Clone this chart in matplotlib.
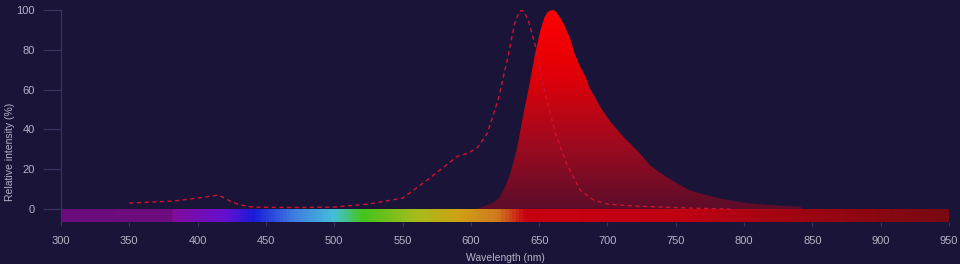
import numpy as np
import matplotlib.pyplot as plt
from matplotlib.colors import LinearSegmentedColormap
from matplotlib.patches import Polygon

# emission spectrum (filled, gradient)
em_wl = [604, 608, 612, 617, 621, 625, 629, 634, 638, 643, 647, 651, 654, 656, 658, 660,
         662, 665, 669, 673, 676, 680, 684, 687, 691, 695, 702, 707, 712, 719, 725, 731, 737,
         743, 752, 760, 771, 782, 793, 804, 816, 828, 841, 843]
em_val = [0, 1, 2, 3.5, 6, 11, 18, 31, 46, 63, 78, 90, 96.5, 98.8, 99.7, 100,
          99.5, 96.6, 91.6, 85, 78, 71.5, 66.5, 60.8, 56, 51, 44, 40, 36, 31.3, 27, 22, 19,
          16.2, 12.5, 9.5, 7.2, 5.4, 4, 2.9, 2.2, 1.6, 1.2, 0]

# absorption spectrum (dashed)
ab_wl = [350, 365, 382, 400, 415, 420, 425, 432, 440, 460, 480, 500, 525, 550, 565, 580,
         590, 598, 605, 612, 620, 627, 632, 635, 637, 639, 642, 648, 655, 662, 670, 680, 690,
         700, 720, 740, 760, 790]
ab_val = [3, 3.5, 4, 5.5, 7, 5.5, 3.5, 2, 1, 0.8, 0.8, 1, 2.5, 5.5, 13, 21,
          26.5, 28, 31, 38, 55, 76, 93, 98.5, 100, 99, 95, 80, 56, 38, 23, 9.5, 4.5,
          2.5, 1.5, 1, 0.5, 0]

# visible spectrum bar colours
bar_wl = [300, 379, 381, 420, 440, 470, 500, 520, 560, 590, 620, 640, 750, 950]
bar_colors = ['#6a0c7c', '#6e0d80', '#820c9c', '#6410d0', '#1a1ad8', '#3f7ee0', '#45c0d8',
              '#44c41c', '#a6bc1c', '#cfa214', '#cf7a1e', '#c80010', '#c00012', '#780a12']

xticks = list(range(300, 951, 50))
yticks = [0, 20, 40, 60, 80, 100]

bg = '#1a1538'
txt = '#b4b2c8'
line_c = '#3a3560'

plt.rcParams['font.family'] = ['Liberation Sans', 'DejaVu Sans']

fig = plt.figure(figsize=(9.6, 2.64), dpi=100, facecolor=bg)
ax = fig.add_axes([61 / 960, 1 - 222 / 264, 888 / 960, 212 / 264])
ax.set_facecolor(bg)
ax.set_xlim(300, 950)
ax.set_ylim(-6.5, 100)

# spectrum bar
pos = [(w - 300) / 650 for w in bar_wl]
bar_cmap = LinearSegmentedColormap.from_list('vis', list(zip(pos, bar_colors)))
ax.imshow(np.linspace(0, 1, 900).reshape(1, -1), cmap=bar_cmap, aspect='auto',
          extent=(300, 950, -6.5, 0), zorder=1)

# emission gradient fill
grad = LinearSegmentedColormap.from_list('em', ['#5c0d2a', '#a00a1e', '#e00008', '#ff0000'])
im = ax.imshow(np.linspace(0, 1, 256).reshape(-1, 1), cmap=grad, origin='lower',
               aspect='auto', extent=(300, 950, 0, 100), zorder=2)
poly = Polygon(list(zip(em_wl, em_val)) + [(em_wl[-1], 0), (em_wl[0], 0)],
               closed=True, facecolor='none', edgecolor='none')
ax.add_patch(poly)
im.set_clip_path(poly)

# absorption dashed
ax.plot(ab_wl, ab_val, color='#d0122e', lw=1.0, ls=(0, (3, 2.5)), zorder=3)

ax.set_xticks(xticks)
ax.set_yticks(yticks)
ax.tick_params(axis='y', length=13, width=0.8, color=line_c, colors=txt, labelsize=8, pad=6)
ax.tick_params(axis='x', length=3, width=0.8, color=line_c, colors=txt, labelsize=8, pad=7)
for s in ['top', 'right', 'bottom']:
    ax.spines[s].set_visible(False)
ax.spines['left'].set_color(line_c)
ax.spines['left'].set_linewidth(0.8)

ax.set_xlabel('Wavelength (nm)', color=txt, fontsize=7.5, labelpad=5)
ax.set_ylabel('Relative intensity (%)', color=txt, fontsize=7.5)
ax.yaxis.set_label_coords(-46 / 888, 0.33)

fig.savefig('out.png', dpi=100, facecolor=bg)
